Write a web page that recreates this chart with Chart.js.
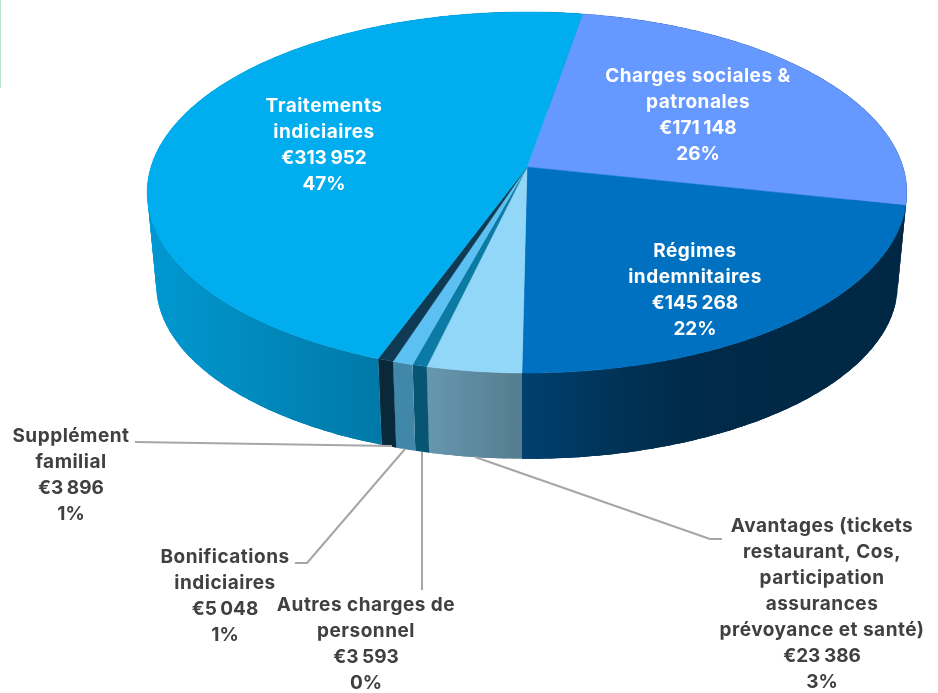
<!DOCTYPE html>
<html><head><meta charset="utf-8">
<style>html,body{margin:0;padding:0;background:#fff;overflow:hidden}
#wrap{position:relative;width:938px;height:693px}
#edge{position:absolute;left:0;top:0;width:1px;height:88px;background:#b5e3c8}
canvas{display:block}</style>
<script src="https://cdn.jsdelivr.net/npm/chart.js@4"></script>
</head><body><div id="wrap"><div id="edge"></div><canvas id="c" width="938" height="693"></canvas></div>
<script>
const categories = ["Charges sociales & patronales","Régimes indemnitaires","Avantages (tickets restaurant, Cos, participation assurances prévoyance et santé)","Autres charges de personnel","Bonifications indiciaires","Supplément familial","Traitements indiciaires"];
const amounts = [171148,145268,23386,3593,5048,3896,313952];
const percents = [26,22,3,0,1,1,47];
const amountLabels = ["€171 148","€145 268","€23 386","€3 593","€5 048","€3 896","€313 952"];
const nameLines = [["Charges sociales &","patronales"],["Régimes","indemnitaires"],["Avantages (tickets","restaurant, Cos,","participation","assurances","prévoyance et santé)"],["Autres charges de","personnel"],["Bonifications","indiciaires"],["Supplément","familial"],["Traitements","indiciaires"]];
const topColors = ["#6699FF","#0070C0","#93D7F8","#0B7AA5","#5CC1F2","#0E3A53","#00AEEF"];
const textColors = ["#fff","#fff","#404040","#404040","#404040","#404040","#fff"];
const labelX = [698,695,822,366,225,71,324];
const labelY = [76,251,526,605,557,436,106];
const leaders = [null,null,[[475,457],[710,539],[722,539]],[[422,452],[422,590]],[[405,449],[307,563],[295,563]],[[392,446],[135,442]],null];

const K = -0.1413;
const TOP = {y0:167,b:153.3,a:376};
const BOT = {y0:260,b:134,a:367};
const CX = 527;
function project(theta, lv){
  const x=Math.sin(theta), y=-Math.cos(theta), d=1+K*y;
  return [CX+lv.a*x/d,(lv.y0+lv.b*y)/d];
}
const shadeX=[147,380,430,522,620,700,900];
const shadeF=[.88,.70,.70,.58,.45,.38,.36];
function wallGradient(ctx,hex){
  const g=ctx.createLinearGradient(0,0,938,0);
  const n=parseInt(hex.slice(1),16);
  shadeX.forEach((px,i)=>{
    const f=shadeF[i];
    g.addColorStop(px/938,`rgb(${(n>>16&255)*f|0},${(n>>8&255)*f|0},${(n&255)*f|0})`);
  });
  return g;
}
const pie3d={
  id:'pie3d',
  beforeDatasetDraw(chart,args){
    const ctx=chart.ctx, arcs=chart.getDatasetMeta(args.index).data;
    const STEP=Math.PI/180;
    const toTheta=a=>a+Math.PI/2;
    // side walls: overlapping quads so no seams show
    arcs.forEach((arc,i)=>{
      const s=toTheta(arc.startAngle), e=toTheta(arc.endAngle);
      ctx.fillStyle=wallGradient(ctx,topColors[i]);
      for(let t=s;t<e-1e-6;t+=2*STEP){
        const u=Math.min(t+5*STEP,e);
        ctx.beginPath();
        const a=[];
        for(let v=t;v<u;v+=STEP)a.push(v);a.push(u);
        a.forEach((v,j)=>{const q=project(v,TOP);j?ctx.lineTo(q[0],q[1]):ctx.moveTo(q[0],q[1]);});
        a.reverse().forEach(v=>{const q=project(v,BOT);ctx.lineTo(q[0],q[1]);});
        ctx.closePath();ctx.fill();
      }
    });
    // top face
    arcs.forEach((arc,i)=>{
      const s=toTheta(arc.startAngle), e=toTheta(arc.endAngle);
      ctx.fillStyle=topColors[i];ctx.strokeStyle=topColors[i];ctx.lineWidth=.5;
      ctx.beginPath();ctx.moveTo(CX,TOP.y0);
      for(let t=s;;t+=STEP/2){const u=Math.min(t,e);const q=project(u,TOP);ctx.lineTo(q[0],q[1]);if(t>=e)break;}
      ctx.closePath();ctx.fill();ctx.stroke();
    });
    return false;
  },
  afterDatasetsDraw(chart){
    const ctx=chart.ctx;
    ctx.strokeStyle='#a6a6a6';ctx.lineWidth=2;ctx.lineJoin='round';
    leaders.forEach(l=>{ if(!l)return;ctx.beginPath();l.forEach((q,j)=>j?ctx.lineTo(q[0],q[1]):ctx.moveTo(q[0],q[1]));ctx.stroke();});
    ctx.textAlign='center';ctx.textBaseline='middle';
    categories.forEach((c,i)=>{
      ctx.fillStyle=textColors[i];
      const names=nameLines[i];
      ctx.font='700 19px Inter';ctx.letterSpacing='0.5px';ctx.wordSpacing='0px';
      names.forEach((t,j)=>ctx.fillText(t,labelX[i],labelY[i]+j*26));
      ctx.letterSpacing='0px';ctx.wordSpacing='-1px';
      ctx.fillText(amountLabels[i],labelX[i],labelY[i]+names.length*26);
      ctx.fillText(percents[i]+'%',labelX[i],labelY[i]+(names.length+1)*26);
    });
  }
};
new Chart(document.getElementById('c'),{
  type:'pie',
  data:{labels:categories,datasets:[{data:amounts,backgroundColor:topColors,borderWidth:0}]},
  options:{responsive:false,animation:false,rotation:9.7,plugins:{legend:{display:false},tooltip:{enabled:false}}},
  plugins:[pie3d]
});
</script></body></html>
